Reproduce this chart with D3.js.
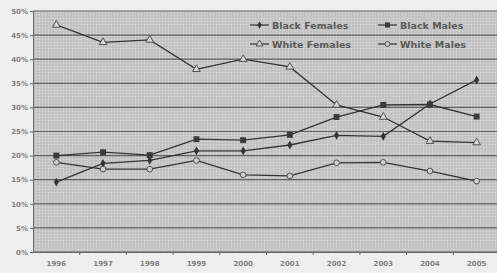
<!DOCTYPE html>
<html>
<head>
<meta charset="utf-8">
<script src="https://cdn.jsdelivr.net/npm/d3@7"></script>
<style>
  body { margin: 0; background: #eeeeee; }
  text { font-family: "DejaVu Sans", sans-serif; }
</style>
</head>
<body>
<div id="chart"></div>
<script>
// chart size
const width = 497;
const height = 273;

// data (percent)
const years = ["1996", "1997", "1998", "1999", "2000", "2001", "2002", "2003", "2004", "2005"];
const blackFemales = [14.5, 18.4, 19.0, 21.0, 21.0, 22.2, 24.2, 24.0, 30.7, 35.7];
const blackMales   = [20.0, 20.7, 20.1, 23.4, 23.2, 24.3, 28.0, 30.5, 30.6, 28.1];
const whiteFemales = [47.1, 43.5, 44.0, 37.9, 40.0, 38.4, 30.5, 28.0, 23.0, 22.7];
const whiteMales   = [18.6, 17.2, 17.2, 19.0, 16.0, 15.8, 18.5, 18.6, 16.8, 14.7];
const yTicks = [0, 5, 10, 15, 20, 25, 30, 35, 40, 45, 50];

const series = [
    { name: "Black Females", values: blackFemales, marker: "diamond" },
    { name: "Black Males",   values: blackMales,   marker: "square" },
    { name: "White Females", values: whiteFemales, marker: "triangle" },
    { name: "White Males",   values: whiteMales,   marker: "circle" }
];

const margin = { top: 11, right: -3, bottom: 21, left: 33 };

const svg = d3.select("#chart")
    .append("svg")
    .attr("width", width)
    .attr("height", height);

// dotted grey fill for the plot area
const defs = svg.append("defs");
const pat = defs.append("pattern")
    .attr("id", "dots")
    .attr("width", 3)
    .attr("height", 3)
    .attr("patternUnits", "userSpaceOnUse");
pat.append("rect").attr("width", 3).attr("height", 3).attr("fill", "#c6c6c6");
pat.append("rect").attr("x", 0).attr("y", 0).attr("width", 1).attr("height", 1).attr("fill", "#d8d8d8");
pat.append("rect").attr("x", 1.5).attr("y", 1.5).attr("width", 1).attr("height", 1).attr("fill", "#b8b8b8");

const x = d3.scaleBand()
    .domain(years)
    .range([margin.left, width - margin.right]);

const y = d3.scaleLinear()
    .domain([0, 50])
    .range([height - margin.bottom, margin.top]);

svg.append("rect")
    .attr("x", margin.left)
    .attr("y", margin.top)
    .attr("width", width - margin.right - margin.left)
    .attr("height", y(0) - margin.top)
    .attr("fill", "url(#dots)");

// gridlines
svg.append("g")
    .selectAll("line")
    .data(yTicks)
    .join("line")
    .attr("x1", margin.left)
    .attr("x2", width)
    .attr("y1", d => y(d))
    .attr("y2", d => y(d))
    .attr("stroke", "#5e5e5e")
    .attr("stroke-width", 1.2);

// y axis
const yAxis = svg.append("g")
    .attr("transform", `translate(${margin.left},0)`)
    .call(d3.axisLeft(y).tickValues(yTicks).tickFormat(d => d + "%").tickSize(3));
yAxis.select(".domain").attr("stroke", "#666");
yAxis.selectAll(".tick line").attr("stroke", "#666");
yAxis.selectAll("text")
    .attr("font-size", 7)
    .attr("font-weight", "bold")
    .attr("fill", "#808080")
    .attr("x", -5);

// x axis, ticks between categories
const xAxis = svg.append("g")
    .attr("transform", `translate(0,${y(0)})`)
    .call(d3.axisBottom(x).tickSize(0).tickPadding(9));
xAxis.select(".domain").attr("stroke", "#666");
xAxis.selectAll("text")
    .attr("font-size", 7)
    .attr("font-weight", "bold")
    .attr("fill", "#808080");
svg.append("g")
    .selectAll("line")
    .data(years.slice(1))
    .join("line")
    .attr("x1", d => x(d))
    .attr("x2", d => x(d))
    .attr("y1", y(0))
    .attr("y2", y(0) + 3)
    .attr("stroke", "#666");

function drawMarker(g, type, size) {
    const s = size;
    if (type === "diamond") {
        g.append("path")
            .attr("d", d3.symbol(d3.symbolDiamond, s * 14)())
            .attr("fill", "#333");
    } else if (type === "square") {
        g.append("path")
            .attr("d", d3.symbol(d3.symbolSquare, s * 22)())
            .attr("fill", "#3a3a3a");
    } else if (type === "triangle") {
        g.append("path")
            .attr("d", d3.symbol(d3.symbolTriangle, s * 16)())
            .attr("fill", "#d8d8d8")
            .attr("stroke", "#444")
            .attr("stroke-width", 0.9);
    } else {
        g.append("path")
            .attr("d", d3.symbol(d3.symbolCircle, s * 16)())
            .attr("fill", "#d0d0d0")
            .attr("stroke", "#444")
            .attr("stroke-width", 0.9);
    }
}

const line = d3.line()
    .x((d, i) => x(years[i]) + x.bandwidth() / 2)
    .y(d => y(d));

// lines
series.forEach(function(s) {
    svg.append("path")
        .datum(s.values)
        .attr("d", line)
        .attr("fill", "none")
        .attr("stroke", "#333")
        .attr("stroke-width", 1.3);
});

// markers
series.forEach(function(s) {
    s.values.forEach(function(v, i) {
        const g = svg.append("g")
            .attr("transform", `translate(${x(years[i]) + x.bandwidth() / 2},${y(v)})`);
        drawMarker(g, s.marker, 1.6);
    });
});

// legend
const legendPos = [[250, 25], [378, 25], [250, 44], [378, 44]];
series.forEach(function(s, i) {
    const lg = svg.append("g")
        .attr("transform", `translate(${legendPos[i][0]},${legendPos[i][1]})`);
    lg.append("line")
        .attr("x1", 0).attr("x2", 19)
        .attr("stroke", "#333")
        .attr("stroke-width", 1.2);
    const mg = lg.append("g").attr("transform", "translate(9.5,0)");
    drawMarker(mg, s.marker, 1.2);
    lg.append("text")
        .attr("x", 22)
        .attr("y", 3.5)
        .attr("font-size", 9.5)
        .attr("font-weight", "bold")
        .attr("fill", "#5a5a5a")
        .text(s.name);
});
</script>
</body>
</html>
